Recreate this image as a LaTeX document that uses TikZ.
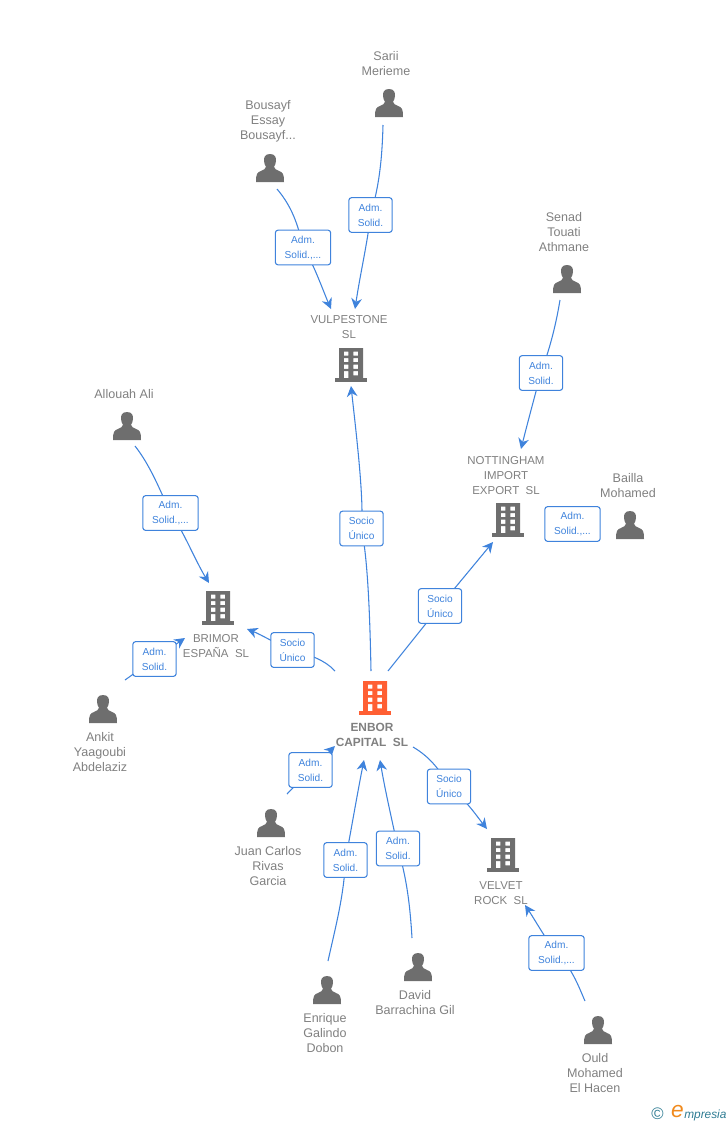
\documentclass[tikz,border=0pt]{standalone}
\usepackage{fontspec}
\setmainfont{Liberation Sans}
\usetikzlibrary{arrows.meta,backgrounds}
\definecolor{linkblue}{HTML}{3F83DC}
\definecolor{icongrey}{HTML}{6E6E6E}
\definecolor{txtgrey}{HTML}{808080}
\definecolor{enborred}{HTML}{FF5F33}
\definecolor{logoteal}{HTML}{2F7C93}
\definecolor{logoorange}{HTML}{F08A1D}
\tikzset{
  x=0.75pt,y=-0.75pt,
  conn/.style={draw=linkblue,line width=0.8pt,-{Stealth[length=8pt,width=8pt,inset=2.6pt]}},
  tag/.style={draw=linkblue,fill=white,rounded corners=2pt,line width=0.8pt,text=linkblue,
    font=\fontsize{7.6}{11.25}\selectfont,align=center,minimum height=26pt,inner sep=0pt,text width=#1},
  tag/.default=32.5pt,
  wide/.style={tag=41.5pt},
  pname/.style={text=txtgrey,font=\fontsize{9.4}{11.25}\selectfont,align=center,inner sep=0pt,yshift=-0.7pt},
  cname/.style={text=txtgrey,font=\fontsize{8.6}{11.25}\selectfont,align=center,inner sep=0pt,yshift=-0.5pt},
  person/.pic={
    \fill[icongrey] (0,-14) .. controls (-5,-14) and (-6.3,-10.5) .. (-6,-7)
      .. controls (-5.8,-4.5) and (-5,-2.5) .. (-4,-1.2)
      .. controls (-4.5,0.8) and (-6,1.8) .. (-9,3)
      .. controls (-13,4.4) and (-14,6) .. (-14,14) -- (14,14)
      .. controls (14,6) and (13,4.4) .. (9,3)
      .. controls (6,1.8) and (4.5,0.8) .. (4,-1.2)
      .. controls (5,-2.5) and (5.8,-4.5) .. (6,-7)
      .. controls (6.3,-10.5) and (5,-14) .. (0,-14) -- cycle;
  },
  building/.pic={
    \fill[even odd rule,pic actions]
      (-12,-17) rectangle (12,15)
      (-7.2,-13.5) rectangle (-2.6,-9.3) (2.4,-13.5) rectangle (7,-9.3)
      (-7.2,-7) rectangle (-2.6,-2.8) (2.4,-7) rectangle (7,-2.8)
      (-7.2,-0.4) rectangle (-2.6,3.8) (2.4,-0.4) rectangle (7,3.8)
      (-7.2,6.2) rectangle (-2.6,15) (2.4,6.2) rectangle (7,10.4);
    \fill[pic actions] (-16,13.4) rectangle (16,16.8);
  }
}
\begin{document}
\begin{tikzpicture}
\useasboundingbox (0,0) rectangle (728,1125);

% people
\pic at (389,103) {person}; \pic at (270,168) {person}; \pic at (567,279) {person};
\pic at (127,426) {person}; \pic at (630,525) {person}; \pic at (103,709) {person};
\pic at (271,823) {person}; \pic at (327,990) {person}; \pic at (418,967) {person};
\pic at (598,1030) {person};

% buildings
\pic[fill=icongrey] at (351,365) {building};
\pic[fill=icongrey] at (508,520) {building};
\pic[fill=icongrey] at (218,608) {building};
\pic[fill=icongrey] at (503,855) {building};
\pic[fill=enborred] at (375,698) {building};

% names
\node[pname] (sarii) at (386,62.5) {Sarii\\Merieme};
\node[pname] (bousayf) at (268,120.5) {Bousayf\\Essay\\Bousayf...};
\node[pname] (senad) at (564,231) {Senad\\Touati\\Athmane};
\node[pname] (allouah) at (124,393) {Allouah Ali};
\node[pname] (bailla) at (628,484.5) {Bailla\\Mohamed};
\node[pname] (ankit) at (100,751) {Ankit\\Yaagoubi\\Abdelaziz};
\node[pname] (juan) at (268,865) {Juan Carlos\\Rivas\\Garcia};
\node[pname] (enrique) at (325,1032) {Enrique\\Galindo\\Dobon};
\node[pname] (david) at (415,1001.5) {David\\Barrachina Gil};
\node[pname] (ould) at (595,1072) {Ould\\Mohamed\\El Hacen};

\node[cname] (vulpestone) at (349,326.5) {VULPESTONE\\SL};
\node[cname] (nottingham) at (506,474.5) {NOTTINGHAM\\IMPORT\\EXPORT~~SL};
\node[cname] (brimor) at (216,645) {BRIMOR\\ESPAÑA~~SL};
\node[cname,font=\fontsize{8.9}{11.25}\selectfont\bfseries] (enbor) at (372,734.5) {ENBOR\\CAPITAL~~SL};
\node[cname] (velvet) at (501,892) {VELVET\\ROCK~~SL};

% relation tags
\node[tag] (t1) at (370.5,215) {Adm.\\Solid.};
\node[wide] (t2) at (303,247.5) {Adm.\\Solid.,...};
\node[tag] (t3) at (541,373) {Adm.\\Solid.};
\node[tag] (t4) at (361.5,528.5) {Socio\\Único};
\node[tag] (t5) at (440,606) {Socio\\Único};
\node[wide] (t6) at (572.5,524) {Adm.\\Solid.,...};
\node[wide] (t7) at (170.5,513) {Adm.\\Solid.,...};
\node[tag] (t8) at (292.5,650) {Socio\\Único};
\node[tag] (t9) at (154.5,659) {Adm.\\Solid.};
\node[tag] (t10) at (310.5,770) {Adm.\\Solid.};
\node[tag] (t11) at (345.5,860) {Adm.\\Solid.};
\node[tag] (t12) at (398,848.5) {Adm.\\Solid.};
\node[tag] (t13) at (449,786.5) {Socio\\Único};
\node[wide] (t14) at (556.5,953) {Adm.\\Solid.,...};

% free connector ends
\coordinate (a1) at (383,125);  \coordinate (b1) at (355,309);
\coordinate (a2) at (277,189);  \coordinate (b2) at (331,309);
\coordinate (a3) at (560,300);  \coordinate (b3) at (521,449);
\coordinate (a4) at (371,671);  \coordinate (b4) at (351,386);
\coordinate (a5) at (388,671);  \coordinate (b5) at (493,542);
\coordinate (a7) at (135,446);  \coordinate (b7) at (209,583);
\coordinate (a8) at (335,671);  \coordinate (b8) at (247,629);
\coordinate (a9) at (125,680);  \coordinate (b9) at (185,638);
\coordinate (a10) at (287,794); \coordinate (b10) at (335,746);
\coordinate (a11) at (328,961); \coordinate (b11) at (364,760);
\coordinate (a12) at (412,938); \coordinate (b12) at (380,760);
\coordinate (a13) at (413,747); \coordinate (b13) at (487,829);
\coordinate (a14) at (585,1001);\coordinate (b14) at (525,905);

\begin{scope}[on background layer]
\draw[conn] (a1) .. controls (382,165) and (378,190) .. (t1.center) .. controls (368,240) and (360,275) .. (b1);
\draw[conn] (a2) .. controls (288,202) and (297,218) .. (t2.center) .. controls (313,262) and (322,288) .. (b2);
\draw[conn] (a3) .. controls (555,330) and (549,350) .. (t3.center) .. controls (535,395) and (527,425) .. (b3);
\draw[conn] (a4) .. controls (370,620) and (368,560) .. (t4.center) .. controls (364,500) and (357,440) .. (b4);
\draw[conn] (a5) -- (t5.center) -- (b5);
\draw[conn] (a7) .. controls (150,465) and (160,490) .. (t7.center) .. controls (183,530) and (195,560) .. (b7);
\draw[conn] (a8) .. controls (325,660) and (310,655) .. (t8.center) .. controls (278,645) and (262,635) .. (b8);
\draw[conn] (a9) -- (t9.center) -- (b9);
\draw[conn] (a10) -- (t10.center) -- (b10);
\draw[conn] (a11) .. controls (336,925) and (344,895) .. (t11.center) .. controls (352,825) and (358,790) .. (b11);
\draw[conn] (a12) .. controls (410,905) and (407,880) .. (t12.center) .. controls (392,820) and (385,790) .. (b12);
\draw[conn] (a13) .. controls (430,757) and (440,770) .. (t13.center) .. controls (466,800) and (476,815) .. (b13);
\draw[conn] (a14) .. controls (578,985) and (572,968) .. (t14.center) .. controls (545,938) and (535,920) .. (b14);
\end{scope}

% logo
\node[inner sep=0pt,text=logoteal,font=\fontsize{12.5}{12.5}\selectfont] (copy) at (657.5,1113.5) {©};
\node[inner sep=0pt,text=logoorange,font=\fontsize{17}{17}\selectfont\itshape] (logoe) at (677.5,1111) {e};
\node[inner sep=0pt,anchor=west,text=logoteal,font=\fontsize{8.9}{8.9}\selectfont\itshape] (logot) at (684,1115) {mpresia};
\end{tikzpicture}
\end{document}
